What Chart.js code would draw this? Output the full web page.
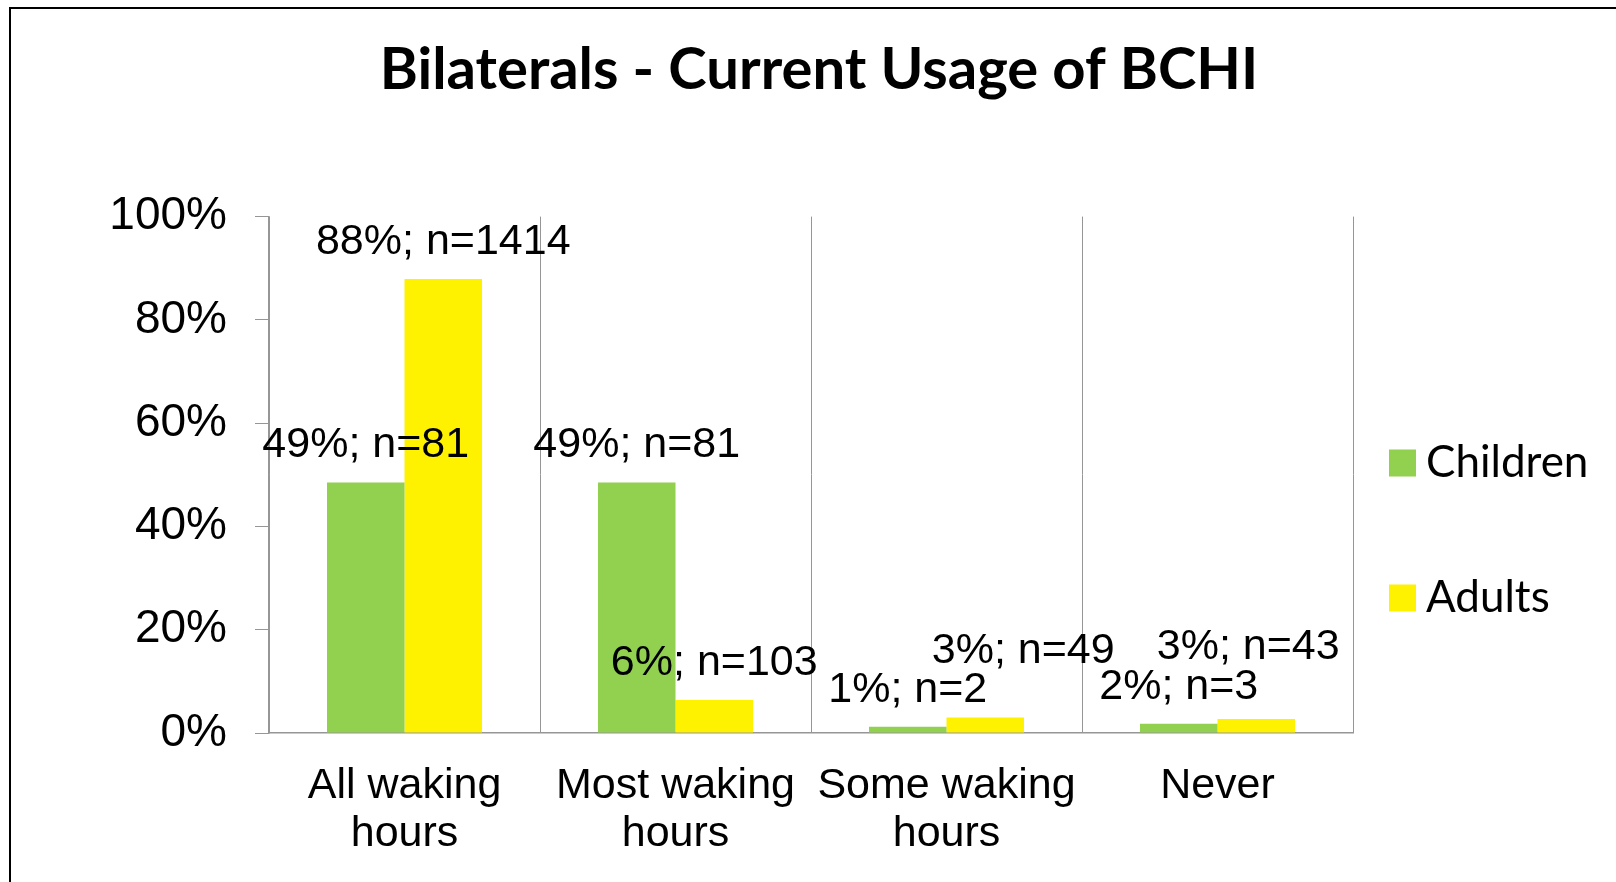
<!DOCTYPE html>
<html>
<head>
<meta charset="utf-8">
<title>Bilaterals - Current Usage of BCHI</title>
<script src="https://cdn.jsdelivr.net/npm/chart.js@4.4.1/dist/chart.umd.min.js"></script>
<style>
  html, body { margin: 0; padding: 0; background: #fff; overflow: hidden; }
  #frame { position: absolute; left: 9px; top: 7px; width: 1700px; height: 1000px; border: 2px solid #000; }
  #wrap { position: absolute; left: 0; top: 0; width: 1616px; height: 882px; }
</style>
</head>
<body>
<div id="frame"></div>
<div id="wrap"><canvas id="usageChart" width="1616" height="882"></canvas></div>
<script>
// values
var categories = [['All waking', 'hours'], ['Most waking', 'hours'], ['Some waking', 'hours'], 'Never'];
var childrenPct = [48.5, 48.5, 1.2, 1.8];
var adultsPct = [87.9, 6.4, 3.0, 2.7];
var childrenLabels = ['49%; n=81', '49%; n=81', '1%; n=2', '2%; n=3'];
var adultsLabels = ['88%; n=1414', '6%; n=103', '3%; n=49', '3%; n=43'];
var yTicks = [0, 20, 40, 60, 80, 100];

var GREEN = '#92D050';
var YELLOW = '#FFF200';
var GRID = '#969696';

// a couple of labels were dragged off their bars in the original
var labelNudge = { 1: { 2: [38, -29], 3: [-8, -35] } };

var barLabels = {
    id: 'barLabels',
    afterDatasetsDraw: function(chart) {
        var ctx = chart.ctx;
        ctx.save();
        ctx.font = '43px "Liberation Sans", Arial, sans-serif';
        ctx.fillStyle = '#000';
        ctx.textAlign = 'center';
        ctx.textBaseline = 'middle';
        chart.data.datasets.forEach(function(ds, di) {
            chart.getDatasetMeta(di).data.forEach(function(bar, i) {
                var n = (labelNudge[di] && labelNudge[di][i]) || [0, 0];
                ctx.fillText(ds.valueLabels[i], bar.x + n[0], bar.y - 37 + n[1]);
            });
        });
        ctx.restore();
    }
};

var sideLegend = {
    id: 'sideLegend',
    afterDraw: function(chart) {
        var ctx = chart.ctx;
        var x = chart.chartArea.right + 36;
        var y0 = 463, gap = 135, box = 27;
        ctx.save();
        ctx.font = '44px Lato, sans-serif';
        ctx.textBaseline = 'middle';
        ctx.textAlign = 'left';
        chart.data.datasets.forEach(function(ds, i) {
            var cy = y0 + i * gap;
            ctx.fillStyle = ds.backgroundColor;
            ctx.fillRect(x, cy - box / 2, box, box);
            ctx.fillStyle = '#000';
            ctx.fillText(ds.label, x + box + 10, cy);
        });
        ctx.restore();
    }
};

var usageChart = new Chart(document.getElementById('usageChart'), {
    type: 'bar',
    data: {
        labels: categories,
        datasets: [
            {
                label: 'Children',
                data: childrenPct,
                valueLabels: childrenLabels,
                backgroundColor: GREEN,
                categoryPercentage: 0.572,
                barPercentage: 1.0
            },
            {
                label: 'Adults',
                data: adultsPct,
                valueLabels: adultsLabels,
                backgroundColor: YELLOW,
                categoryPercentage: 0.572,
                barPercentage: 1.0
            }
        ]
    },
    options: {
        responsive: false,
        animation: false,
        layout: { padding: { left: 22, right: 0, top: 0, bottom: 0 } },
        plugins: {
            legend: { display: false },
            tooltip: { enabled: false },
            title: {
                display: true,
                text: 'Bilaterals - Current Usage of BCHI',
                color: '#000',
                font: { family: 'Lato, sans-serif', size: 58, weight: 'bold', lineHeight: 1.2 },
                padding: { top: 35, bottom: 112 }
            }
        },
        scales: {
            x: {
                afterFit: function(scale) { scale.height = 149; },
                grid: { offset: true, drawTicks: false, color: GRID, lineWidth: 1 },
                border: { display: true, color: GRID, width: 1.5 },
                ticks: {
                    color: '#000',
                    padding: 29,
                    maxRotation: 0,
                    autoSkip: false,
                    font: { family: '"Liberation Sans", Arial, sans-serif', size: 43, lineHeight: 1.116 }
                }
            },
            y: {
                min: yTicks[0],
                max: yTicks[yTicks.length - 1],
                afterFit: function(scale) { scale.width = 247; },
                afterBuildTicks: function(scale) {
                    scale.ticks = yTicks.map(function(v) { return { value: v }; });
                },
                grid: { drawOnChartArea: false, drawTicks: true, tickLength: 14, color: GRID },
                border: { display: true, color: GRID, width: 1.5 },
                ticks: {
                    color: '#000',
                    padding: 28,
                    font: { family: '"Liberation Sans", Arial, sans-serif', size: 46 },
                    callback: function(v) { return v + '%'; }
                }
            },
            legendSpace: {
                type: 'linear',
                position: 'right',
                display: true,
                afterFit: function(scale) { scale.width = 263; },
                grid: { display: false },
                border: { display: false },
                ticks: { display: false }
            }
        }
    },
    plugins: [barLabels, sideLegend]
});
</script>
</body>
</html>
